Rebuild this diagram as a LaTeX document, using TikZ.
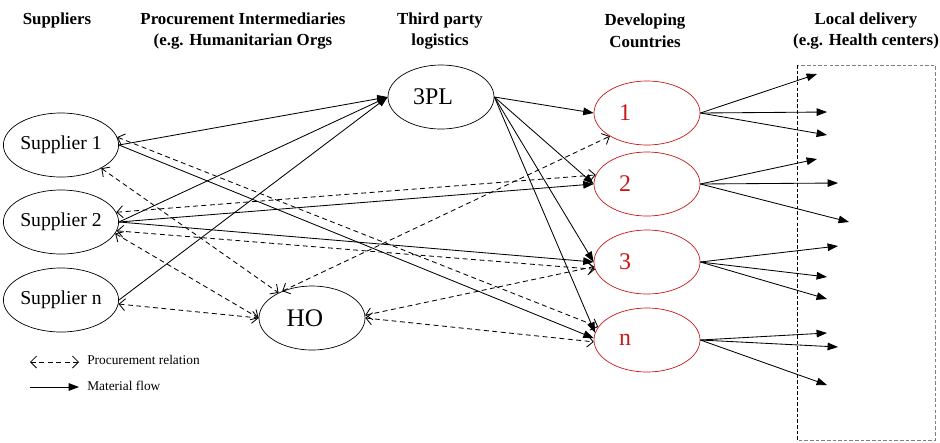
\documentclass[tikz,border=0pt]{standalone}
\usepackage{fontspec}
\setmainfont{Liberation Serif}
\usetikzlibrary{shapes.geometric,arrows.meta}
\definecolor{cred}{RGB}{200,24,24}
\tikzset{
  party/.style={ellipse,draw,line width=0.5pt,minimum width=2.65cm,minimum height=1.6cm,inner sep=0pt,font=\fontsize{14}{16}\selectfont},
  country/.style={party,draw=cred,text=cred,font=\fontsize{17}{19}\selectfont},
  head/.style={align=center,font=\bfseries\fontsize{12}{15.5}\selectfont},
  legend/.style={anchor=west,inner sep=0pt,font=\fontsize{9.5}{11}\selectfont},
  flow/.style={line width=0.6pt,-{Triangle[length=2.6mm,width=1.9mm]}},
  proc/.style={line width=0.6pt,dash pattern=on 3.5pt off 2.5pt,{Straight Barb[length=1.5mm,width=3mm]}-{Straight Barb[length=1.5mm,width=3mm]}},
}
\begin{document}
\begin{tikzpicture}[x=0.025cm,y=-0.025cm]
\useasboundingbox (0,0) rectangle (940,442);
% column heads
\node[head] (hsup) at (57,20) {Suppliers};
\node[head] (hpi) at (243,31) {Procurement Intermediaries\\(e.g. Humanitarian Orgs};
\node[head] (htpl) at (440,31) {Third party\\logistics};
\node[head] (hdc) at (645,31) {Developing\\Countries};
\node[head] (hld) at (866,31) {Local delivery\\(e.g. Health centers)};
% local delivery box
\draw[gray,dash pattern=on 2.5pt off 1.5pt] (797,65) rectangle (935,440);
\draw[dash pattern=on 2.5pt off 1.5pt] (797,65) -- (797,440);
% suppliers, intermediaries
\node[party] (s1) at (61,145) {Supplier 1};
\node[party] (s2) at (61,222) {Supplier 2};
\node[party] (sn) at (61,300) {Supplier n};
\node[party,font=\fontsize{18}{20}\selectfont] (ho) at (312,318) {HO\rule{0.35cm}{0pt}};
\node[party,font=\fontsize{17}{19}\selectfont] (tpl) at (441,97) {3PL\rule{0.4cm}{0pt}};
% countries
\node[country] (c1) at (647,113) {1\rule{1.1cm}{0pt}};
\node[country] (c2) at (647,184) {2\rule{1.1cm}{0pt}};
\node[country] (c3) at (647,262) {3\rule{1.1cm}{0pt}};
\node[country] (cn) at (647,340) {n\rule{1.1cm}{0pt}};
% material flow
\draw[flow] (s1.east) -- (tpl.west);
\draw[flow] (s2.east) -- (tpl.west);
\draw[flow] (sn.east) -- (tpl.west);
\draw[flow] (s1.east) -- (cn.178);
\draw[flow] (s2.east) -- (c2.west);
\draw[flow] (s2.east) -- (c3.west);
\draw[flow] (tpl.east) -- (c1.west);
\draw[flow] (tpl.east) -- (c2.west);
\draw[flow] (tpl.east) -- (c3.west);
\draw[flow] (tpl.east) -- (cn.172);
% procurement relations
\draw[proc] (s1.8) -- (cn.165);
\draw[proc] (s1.-30) -- (ho.143);
\draw[proc] (s2.10) -- (c2.170);
\draw[proc] (s2.-9) -- (c3.188);
\draw[proc] (s2.-12) -- (ho.west);
\draw[proc] (sn.-4) -- (ho.west);
\draw[proc] (ho.138) -- (c1.212);
\draw[proc] (ho.3) -- (c3.185);
\draw[proc] (ho.0) -- (cn.182);
% local delivery
\coordinate (d1a) at (817,74);
\coordinate (d1b) at (827,112);
\coordinate (d1c) at (827,135);
\coordinate (d2a) at (817,159);
\coordinate (d2b) at (838,183);
\coordinate (d2c) at (849,222);
\coordinate (d3a) at (838,246);
\coordinate (d3b) at (827,277);
\coordinate (d3c) at (827,299);
\coordinate (dna) at (827,333);
\coordinate (dnb) at (838,347);
\coordinate (dnc) at (827,385);
\draw[flow] (c1.east) -- (d1a);
\draw[flow] (c1.east) -- (d1b);
\draw[flow] (c1.east) -- (d1c);
\draw[flow] (c2.east) -- (d2a);
\draw[flow] (c2.east) -- (d2b);
\draw[flow] (c2.east) -- (d2c);
\draw[flow] (c3.east) -- (d3a);
\draw[flow] (c3.east) -- (d3b);
\draw[flow] (c3.east) -- (d3c);
\draw[flow] (cn.east) -- (dna);
\draw[flow] (cn.east) -- (dnb);
\draw[flow] (cn.east) -- (dnc);
% legend
\node[legend] (lproc) at (87,360) {Procurement relation};
\node[legend] (lflow) at (87,386) {Material flow};
\coordinate (lp) at (30,362);
\coordinate (lf) at (30,387);
\draw[proc] (lp) -- ([xshift=-0.2cm]lproc.west |- lp);
\draw[flow] (lf) -- ([xshift=-0.2cm]lflow.west |- lf);
\end{tikzpicture}
\end{document}
